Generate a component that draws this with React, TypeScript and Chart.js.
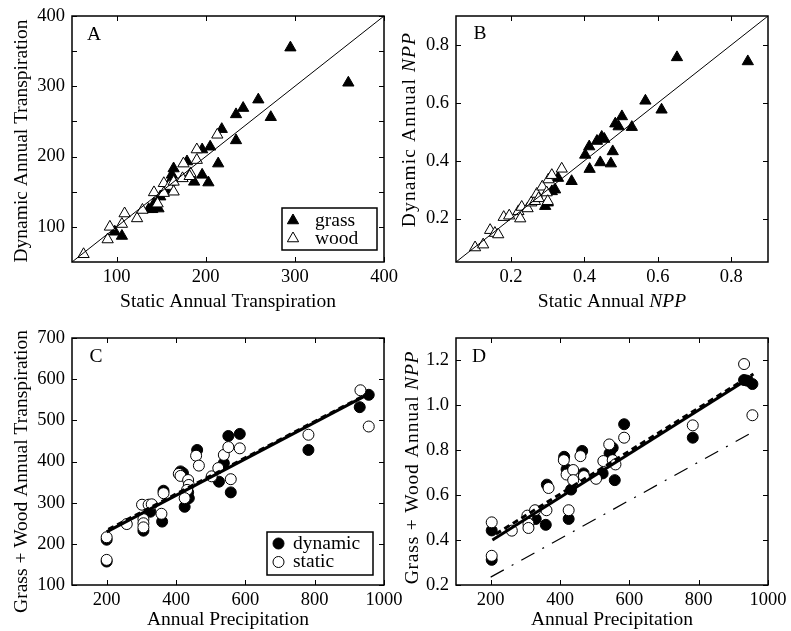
import React, { useEffect, useRef } from 'react';
import { Chart, registerables } from 'chart.js';

Chart.register(...registerables);

const FONT = "'Liberation Serif', 'Times New Roman', Times, serif";
const TICK_SIZE = 18.5;
const TITLE_SIZE = 19.5;

type P = [number, number];

// ---------- Panel A: transpiration, static vs dynamic ----------
const A_grass: P[] = [
  [295, 355], [360, 305], [259, 281], [242, 269], [234, 260], [273, 256], [218, 239],
  [234, 223], [205, 214], [196, 210], [214, 190], [179, 193], [164, 183], [162, 174],
  [196, 174], [187, 164], [203, 163], [160, 164], [155, 152], [149, 143], [142, 133],
  [140, 125], [136, 125], [147, 126], [106, 87], [98, 93],
];
const A_wood: P[] = [
  [63, 61], [90, 82], [92.5, 100], [106, 104], [109, 119], [123, 112], [129, 124],
  [142, 149], [146, 133], [153, 162], [159, 158], [164, 164], [174, 169], [175, 190],
  [183, 176], [190, 210], [190, 195], [213, 231], [153, 148], [164, 150], [182, 172],
];
const A_oneToOne: P[] = [[50, 50], [400, 400]];
const A_xTicks = [100, 200, 300, 400];
const A_yTicks = [100, 150, 200, 250, 300, 350, 400];

// ---------- Panel B: NPP, static vs dynamic ----------
const B_grass: P[] = [
  [0.293, 0.243], [0.30, 0.255], [0.311, 0.294], [0.32, 0.30], [0.328, 0.34], [0.365, 0.329],
  [0.402, 0.42], [0.413, 0.449], [0.414, 0.371], [0.434, 0.468], [0.443, 0.394], [0.447, 0.482],
  [0.454, 0.475], [0.472, 0.39], [0.477, 0.432], [0.484, 0.528], [0.493, 0.518], [0.502, 0.553],
  [0.529, 0.516], [0.566, 0.607], [0.61, 0.576], [0.652, 0.757], [0.845, 0.743],
];
const B_wood: P[] = [
  [0.102, 0.10], [0.124, 0.11], [0.143, 0.16], [0.156, 0.15], [0.165, 0.145], [0.18, 0.205],
  [0.195, 0.21], [0.22, 0.225], [0.225, 0.20], [0.229, 0.24], [0.245, 0.235], [0.255, 0.255],
  [0.265, 0.26], [0.27, 0.285], [0.275, 0.27], [0.285, 0.31], [0.297, 0.29], [0.30, 0.26],
  [0.302, 0.335], [0.311, 0.35], [0.338, 0.372],
];
const B_oneToOne: P[] = [[0.05, 0.05], [0.9, 0.9]];
const B_xTicks = [0.2, 0.4, 0.6, 0.8];
const B_yTicks = [0.2, 0.4, 0.6, 0.8];

// ---------- Panel C: transpiration vs precipitation ----------
const C_dynamic: P[] = [
  [200, 210], [200, 157], [306, 232], [360, 254], [326, 278], [425, 290], [437, 311],
  [461, 428], [413, 376], [420, 372], [524, 351], [538, 396], [551, 462], [558, 325],
  [584, 467], [782, 428], [930, 532], [956, 562], [364, 329], [435, 325],
];
const C_static: P[] = [
  [200, 216], [200, 161], [258, 248], [302, 295], [306, 260], [306, 250], [306, 240],
  [321, 295], [330, 296], [358, 273], [364, 323], [408, 370], [413, 365], [435, 355],
  [437, 343], [432, 331], [425, 311], [458, 414], [466, 390], [503, 364], [522, 384],
  [538, 416], [551, 435], [558, 357], [584, 432], [782, 465], [932, 573], [956, 485],
];
const C_fitDynamic: P[] = [[200, 229], [965, 568]];
const C_fitStatic: P[] = [[205, 235], [945, 561]];
const C_xTicks = [200, 400, 600, 800, 1000];
const C_yTicks = [100, 200, 300, 400, 500, 600, 700];

// ---------- Panel D: NPP vs precipitation ----------
const D_dynamic: P[] = [
  [203, 0.443], [203, 0.312], [311, 0.498], [330, 0.494], [359, 0.468], [362, 0.647],
  [425, 0.494], [432, 0.625], [412, 0.771], [419, 0.715], [464, 0.797], [468, 0.697],
  [523, 0.697], [543, 0.786], [552, 0.811], [558, 0.667], [585, 0.916], [783, 0.856],
  [931, 1.113], [955, 1.095], [940, 1.11],
];
const D_static: P[] = [
  [203, 0.479], [203, 0.33], [261, 0.442], [306, 0.509], [309, 0.473], [309, 0.454],
  [328, 0.533], [361, 0.533], [367, 0.632], [411, 0.756], [419, 0.692], [438, 0.712],
  [438, 0.667], [425, 0.533], [459, 0.774], [469, 0.685], [504, 0.673], [525, 0.752],
  [542, 0.826], [552, 0.756], [560, 0.737], [585, 0.856], [783, 0.911], [931, 1.184],
  [955, 0.956],
];
const D_fitDynamic: P[] = [[205, 0.40], [955, 1.13]];
const D_fitStatic: P[] = [[215, 0.427], [958, 1.14]];
const D_otherLine: P[] = [[200, 0.235], [955, 0.88]];
const D_xTicks = [200, 400, 600, 800, 1000];
const D_yTicks = [0.2, 0.4, 0.6, 0.8, 1.0, 1.2];

type Seg = { t: string; i?: boolean };

const toXY = (arr: P[]) => arr.map(([x, y]) => ({ x, y }));

function markerSet(label: string, arr: P[], style: string, filled: boolean, r: number, order: number) {
  return {
    label,
    data: toXY(arr),
    pointStyle: style,
    pointRadius: r,
    pointHoverRadius: r,
    pointBackgroundColor: filled ? '#000' : '#fff',
    pointBorderColor: '#000',
    pointBorderWidth: 1,
    backgroundColor: filled ? '#000' : '#fff',
    borderColor: '#000',
    showLine: false,
    order,
  };
}

function lineSet(label: string, arr: P[], width: number, dash: number[], order: number) {
  return {
    label,
    data: toXY(arr),
    showLine: true,
    borderColor: '#000',
    borderWidth: width,
    borderDash: dash,
    borderCapStyle: 'butt',
    pointRadius: 0,
    pointHoverRadius: 0,
    fill: false,
    order,
  };
}

interface Spec {
  cx: number; cy: number; cw: number; ch: number;
  area: { left: number; top: number; right: number; bottom: number };
  xMin: number; xMax: number; yMin: number; yMax: number;
  xTicks: number[]; yTicks: number[];
  xFmt: (v: number) => string; yFmt: (v: number) => string;
  xTitle: Seg[]; yTitle: Seg[];
  xTitleY: number; yTitleX: number; yTitleY: number; yTitleSpacing: number;
  letter: string; letterX: number; letterY: number;
  datasets: any[];
  legend?: { box: [number, number, number, number]; markerX: number; textX: number; rows: { y: number; style: string; filled: boolean; r: number; text: string }[] };
}

const fmtInt = (v: number) => String(Math.round(v));
const fmtHundreds = (v: number) => (Math.abs(v % 100) < 1e-6 ? String(Math.round(v)) : '');
const fmt1 = (v: number) => v.toFixed(1);

const SPECS: Spec[] = [
  {
    cx: 0, cy: 0, cw: 410, ch: 316,
    area: { left: 72, top: 16, right: 384, bottom: 262 },
    xMin: 50, xMax: 400, yMin: 50, yMax: 400,
    xTicks: A_xTicks, yTicks: A_yTicks, xFmt: fmtInt, yFmt: fmtHundreds,
    xTitle: [{ t: 'Static Annual Transpiration' }],
    yTitle: [{ t: 'Dynamic Annual Transpiration' }],
    xTitleY: 301.5, yTitleX: 21.5, yTitleY: 141, yTitleSpacing: 0,
    letter: 'A', letterX: 94, letterY: 35,
    datasets: [
      lineSet('1:1', A_oneToOne, 1, [], 0),
      markerSet('wood', A_wood, 'triangle', false, 6.5, 1),
      markerSet('grass', A_grass, 'triangle', true, 6.5, 2),
    ],
    legend: {
      box: [282, 208, 377, 250], markerX: 293, textX: 315,
      rows: [
        { y: 220.5, style: 'triangle', filled: true, r: 6.5, text: 'grass' },
        { y: 238.5, style: 'triangle', filled: false, r: 6.5, text: 'wood' },
      ],
    },
  },
  {
    cx: 395, cy: 0, cw: 396, ch: 316,
    area: { left: 61, top: 16, right: 373, bottom: 262 },
    xMin: 0.05, xMax: 0.9, yMin: 0.05, yMax: 0.9,
    xTicks: B_xTicks, yTicks: B_yTicks, xFmt: fmt1, yFmt: fmt1,
    xTitle: [{ t: 'Static Annual ' }, { t: 'NPP', i: true }],
    yTitle: [{ t: 'Dynamic Annual ' }, { t: 'NPP', i: true }],
    xTitleY: 301.5, yTitleX: 15, yTitleY: 129.5, yTitleSpacing: 1.1,
    letter: 'B', letterX: 85, letterY: 34,
    datasets: [
      lineSet('1:1', B_oneToOne, 1, [], 0),
      markerSet('wood', B_wood, 'triangle', false, 6.5, 1),
      markerSet('grass', B_grass, 'triangle', true, 6.5, 2),
    ],
  },
  {
    cx: 0, cy: 316, cw: 410, ch: 315,
    area: { left: 72, top: 22, right: 384, bottom: 269 },
    xMin: 100, xMax: 1000, yMin: 100, yMax: 700,
    xTicks: C_xTicks, yTicks: C_yTicks, xFmt: fmtInt, yFmt: fmtInt,
    xTitle: [{ t: 'Annual Precipitation' }],
    yTitle: [{ t: 'Grass + Wood Annual Transpiration' }],
    xTitleY: 304, yTitleX: 22, yTitleY: 155.5, yTitleSpacing: 0,
    letter: 'C', letterX: 96, letterY: 41,
    datasets: [
      lineSet('fit dynamic', C_fitDynamic, 3, [], 0),
      lineSet('fit static', C_fitStatic, 3, [6, 4], 0),
      markerSet('static', C_static, 'circle', false, 5.5, 1),
      markerSet('dynamic', C_dynamic, 'circle', true, 5.5, 2),
    ],
    legend: {
      box: [267, 216, 373, 259], markerX: 278.5, textX: 293,
      rows: [
        { y: 227.5, style: 'circle', filled: true, r: 5.5, text: 'dynamic' },
        { y: 246, style: 'circle', filled: false, r: 5.5, text: 'static' },
      ],
    },
  },
  {
    cx: 395, cy: 316, cw: 396, ch: 315,
    area: { left: 61, top: 22, right: 373, bottom: 269 },
    xMin: 100, xMax: 1000, yMin: 0.2, yMax: 1.3,
    xTicks: D_xTicks, yTicks: D_yTicks, xFmt: fmtInt, yFmt: fmt1,
    xTitle: [{ t: 'Annual Precipitation' }],
    yTitle: [{ t: 'Grass + Wood Annual ' }, { t: 'NPP', i: true }],
    xTitleY: 304, yTitleX: 18, yTitleY: 151.5, yTitleSpacing: 0.8,
    letter: 'D', letterX: 84, letterY: 41,
    datasets: [
      lineSet('fit dynamic', D_fitDynamic, 3, [], 0),
      lineSet('fit static', D_fitStatic, 3, [6, 4], 0),
      lineSet('other', D_otherLine, 1.2, [15, 9, 2, 9], 0),
      markerSet('static', D_static, 'circle', false, 5.5, 1),
      markerSet('dynamic', D_dynamic, 'circle', true, 5.5, 2),
    ],
  },
];

function segFont(s: Seg, size: number) {
  return `${s.i ? 'italic ' : ''}${size}px ${FONT}`;
}

function drawRich(ctx: CanvasRenderingContext2D, segs: Seg[], cx: number, cy: number, rotate: boolean, size: number, spacing: number) {
  ctx.save();
  ctx.translate(cx, cy);
  if (rotate) ctx.rotate(-Math.PI / 2);
  const anyCtx = ctx as any;
  if (spacing) anyCtx.letterSpacing = `${spacing}px`;
  let total = 0;
  const widths = segs.map((s) => {
    ctx.font = segFont(s, size);
    const w = ctx.measureText(s.t).width;
    total += w;
    return w;
  });
  let x = -total / 2;
  ctx.textBaseline = 'middle';
  ctx.textAlign = 'left';
  ctx.fillStyle = '#000';
  segs.forEach((s, i) => {
    ctx.font = segFont(s, size);
    ctx.fillText(s.t, x, 0);
    x += widths[i];
  });
  if (spacing) anyCtx.letterSpacing = '0px';
  ctx.restore();
}

function drawMarker(ctx: CanvasRenderingContext2D, style: string, filled: boolean, x: number, y: number, r: number) {
  ctx.beginPath();
  if (style === 'triangle') {
    for (let k = 0; k < 3; k++) {
      const a = (k * 2 * Math.PI) / 3;
      const px = x + Math.sin(a) * r;
      const py = y - Math.cos(a) * r;
      if (k === 0) ctx.moveTo(px, py);
      else ctx.lineTo(px, py);
    }
    ctx.closePath();
  } else {
    ctx.arc(x, y, r, 0, Math.PI * 2);
  }
  ctx.fillStyle = filled ? '#000' : '#fff';
  ctx.fill();
  ctx.lineWidth = 1;
  ctx.strokeStyle = '#000';
  ctx.stroke();
}

function makeDecor(spec: Spec) {
  return {
    id: 'decor',
    afterDatasetsDraw(chart: any) {
      const ctx: CanvasRenderingContext2D = chart.ctx;
      const a = chart.chartArea;
      const xs = chart.scales.x;
      const ys = chart.scales.y;
      ctx.save();
      // inward ticks on all four sides
      ctx.strokeStyle = '#000';
      ctx.lineWidth = 1;
      const L = 5;
      ctx.beginPath();
      xs.ticks.forEach((t: any) => {
        const px = Math.round(xs.getPixelForValue(t.value)) + 0.5;
        ctx.moveTo(px, a.bottom);
        ctx.lineTo(px, a.bottom - L);
        ctx.moveTo(px, a.top);
        ctx.lineTo(px, a.top + L);
      });
      ys.ticks.forEach((t: any) => {
        const py = Math.round(ys.getPixelForValue(t.value)) + 0.5;
        ctx.moveTo(a.left, py);
        ctx.lineTo(a.left + L, py);
        ctx.moveTo(a.right, py);
        ctx.lineTo(a.right - L, py);
      });
      ctx.stroke();
      // frame
      ctx.lineWidth = 1.5;
      ctx.strokeRect(a.left, a.top, a.right - a.left, a.bottom - a.top);
      // panel letter
      ctx.fillStyle = '#000';
      ctx.font = `${TITLE_SIZE}px ${FONT}`;
      ctx.textAlign = 'center';
      ctx.textBaseline = 'middle';
      ctx.fillText(spec.letter, spec.letterX, spec.letterY);
      // legend
      if (spec.legend) {
        const [x0, y0, x1, y1] = spec.legend.box;
        ctx.fillStyle = '#fff';
        ctx.fillRect(x0, y0, x1 - x0, y1 - y0);
        ctx.lineWidth = 1.5;
        ctx.strokeStyle = '#000';
        ctx.strokeRect(x0, y0, x1 - x0, y1 - y0);
        spec.legend.rows.forEach((r) => {
          drawMarker(ctx, r.style, r.filled, spec.legend!.markerX, r.y, r.r);
          ctx.fillStyle = '#000';
          ctx.font = `${TITLE_SIZE}px ${FONT}`;
          ctx.textAlign = 'left';
          ctx.textBaseline = 'middle';
          ctx.fillText(r.text, spec.legend!.textX, r.y);
        });
      }
      // axis titles
      const midX = (a.left + a.right) / 2;
      drawRich(ctx, spec.xTitle, midX, spec.xTitleY, false, TITLE_SIZE, 0);
      drawRich(ctx, spec.yTitle, spec.yTitleX, spec.yTitleY, true, TITLE_SIZE, spec.yTitleSpacing);
      ctx.restore();
    },
  };
}

function buildConfig(spec: Spec): any {
  const tickFont = { family: FONT, size: TICK_SIZE };
  return {
    type: 'scatter',
    data: { datasets: spec.datasets },
    options: {
      responsive: false,
      animation: false,
      events: [],
      layout: {
        padding: { left: 0, top: spec.area.top, right: spec.cw - spec.area.right, bottom: 0 },
      },
      plugins: { legend: { display: false }, tooltip: { enabled: false } },
      scales: {
        x: {
          type: 'linear',
          min: spec.xMin,
          max: spec.xMax,
          grid: { display: false, drawTicks: false },
          border: { display: false },
          ticks: {
            font: tickFont,
            color: '#000',
            padding: 4,
            autoSkip: false,
            maxRotation: 0,
            minRotation: 0,
            callback: (v: number) => spec.xFmt(v),
          },
          afterBuildTicks: (scale: any) => {
            scale.ticks = spec.xTicks.map((v) => ({ value: v }));
          },
          afterFit: (scale: any) => {
            scale.height = spec.ch - spec.area.bottom;
            scale.paddingLeft = 0;
            scale.paddingRight = 0;
          },
        },
        y: {
          type: 'linear',
          min: spec.yMin,
          max: spec.yMax,
          grid: { display: false, drawTicks: false },
          border: { display: false },
          ticks: {
            font: tickFont,
            color: '#000',
            padding: 7,
            autoSkip: false,
            callback: (v: number) => spec.yFmt(v),
          },
          afterBuildTicks: (scale: any) => {
            scale.ticks = spec.yTicks.map((v) => ({ value: v }));
          },
          afterFit: (scale: any) => {
            scale.width = spec.area.left;
            scale.paddingTop = 0;
            scale.paddingBottom = 0;
          },
        },
      },
    },
    plugins: [makeDecor(spec)],
  };
}

export default function App() {
  const refs = useRef<(HTMLCanvasElement | null)[]>([]);
  useEffect(() => {
    const charts = SPECS.map((s, i) => new Chart(refs.current[i] as HTMLCanvasElement, buildConfig(s)));
    return () => charts.forEach((c) => c.destroy());
  }, []);
  return (
    <div style={{ position: 'fixed', left: 0, top: 0, width: 791, height: 631, background: '#fff', overflow: 'hidden' }}>
      {SPECS.map((s, i) => (
        <canvas
          key={i}
          ref={(el) => {
            refs.current[i] = el;
          }}
          width={s.cw}
          height={s.ch}
          style={{ position: 'absolute', left: s.cx, top: s.cy, width: s.cw, height: s.ch, display: 'block' }}
        />
      ))}
    </div>
  );
}
